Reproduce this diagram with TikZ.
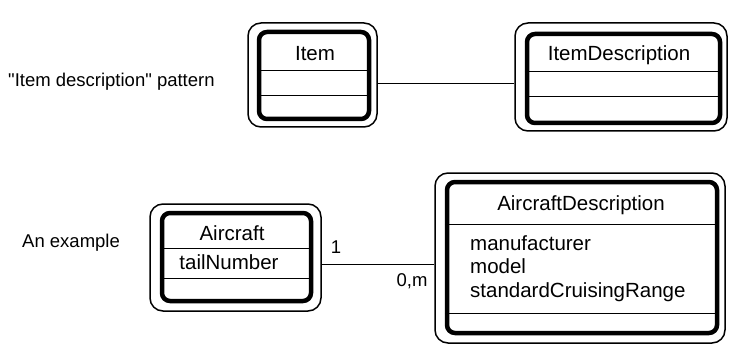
\documentclass[tikz,border=0pt]{standalone}
\usepackage{fontspec}
\setmainfont{Liberation Sans}
% plain (straight) double quotes in the pattern caption
\newfontfamily\captionfont{Liberation Sans}[Ligatures=TeXOff]
\begin{document}
\begin{tikzpicture}[x=1pt,y=-1pt,
  outerbox/.style={draw, line width=1.5pt, rounded corners=13pt, inner sep=0pt},
  innerbox/.style={draw, line width=4.5pt, rounded corners=8pt, inner sep=0pt},
  divider/.style={line width=1pt},
  connector/.style={line width=1pt},
  boxtext/.style={font=\fontsize{20.5}{24}\selectfont, inner sep=0pt, text height=14.5pt, text depth=4pt},
  labeltext/.style={font=\captionfont\fontsize{18.5}{22}\selectfont, inner sep=0pt, text height=13pt, text depth=3.5pt}]
\useasboundingbox (0,0) rectangle (736,350);

% ---- "Item description" pattern ----
\node[labeltext, anchor=west] (patternLabel) at (8,82) {"Item description" pattern};

% Item class
\node[outerbox, minimum width=129pt, minimum height=104pt] (itemOut) at (312.5,75) {};
\node[innerbox, minimum width=110pt, minimum height=87pt] (itemIn) at (314,75.5) {};
\node[boxtext] (itemName) at (315,55) {Item};
\draw[divider] (itemIn.west |- 0,71) -- (itemIn.east |- 0,71);
\draw[divider] (itemIn.west |- 0,96) -- (itemIn.east |- 0,96);
\coordinate (itemAttr) at (314,84);

% ItemDescription class
\node[outerbox, minimum width=212pt, minimum height=108pt] (descOut) at (621,77) {};
\node[innerbox, minimum width=193pt, minimum height=89pt] (descIn) at (623.5,78.5) {};
\node[boxtext] (descName) at (619,55) {ItemDescription};
\draw[divider] (descIn.west |- 0,72) -- (descIn.east |- 0,72);
\draw[divider] (descIn.west |- 0,97) -- (descIn.east |- 0,97);

\draw[connector] (itemOut.east |- itemAttr) -- (descOut.west |- itemAttr);

% ---- An example ----
\node[labeltext, anchor=west] (exampleLabel) at (22,243) {An example};

% Aircraft class
\node[outerbox, minimum width=171pt, minimum height=107pt] (acOut) at (235.5,257.5) {};
\node[innerbox, minimum width=149pt, minimum height=88pt] (acIn) at (236.5,257) {};
\node[boxtext] (acName) at (232,235) {Aircraft};
\draw[divider] (acIn.west |- 0,248) -- (acIn.east |- 0,248);
\node[boxtext] (acTail) at (229,264) {tailNumber};
\draw[divider] (acIn.west |- 0,278) -- (acIn.east |- 0,278);

% AircraftDescription class
\node[outerbox, minimum width=290pt, minimum height=170pt] (adOut) at (580,258) {};
\node[innerbox, minimum width=270pt, minimum height=151pt] (adIn) at (582,257.5) {};
\node[boxtext] (adName) at (581,205) {AircraftDescription};
\draw[divider] (adIn.west |- 0,224) -- (adIn.east |- 0,224);
\node[boxtext, anchor=west] (adAttrA) at (470,245) {manufacturer};
\node[boxtext, anchor=west] (adAttrB) at (470,268) {model};
\node[boxtext, anchor=west] (adAttrC) at (470,292) {standardCruisingRange};
\draw[divider] (adIn.west |- 0,313) -- (adIn.east |- 0,313);

% association with multiplicities
\draw[connector] (acOut.east |- acTail) -- (adOut.west |- acTail);
\node[labeltext] (multOne) at (336,249) {1};
\node[labeltext] (multMany) at (412,282) {0,m};
\end{tikzpicture}
\end{document}
